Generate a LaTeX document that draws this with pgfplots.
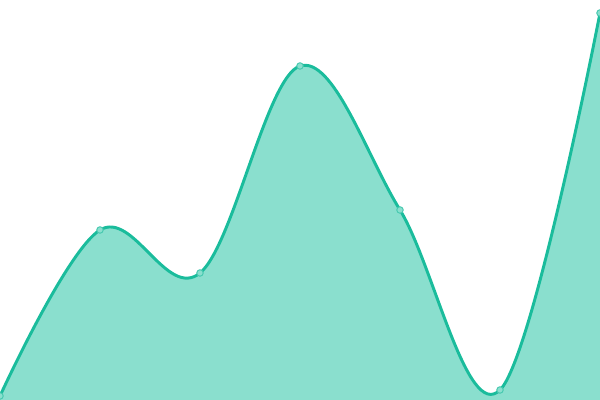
\documentclass[border=0pt]{standalone}
\usepackage{pgfplots}
\pgfplotsset{compat=1.18}
\definecolor{lineC}{HTML}{1ABC9C}
\definecolor{fillC}{HTML}{8ADFCE}
\definecolor{markC}{HTML}{48C9B0}
\begin{document}
\begin{tikzpicture}
\useasboundingbox (0,0) rectangle (15cm,10cm);
\clip (0,0) rectangle (15cm,10cm);
\begin{axis}[
    at={(0,0)}, anchor=south west,
    scale only axis,
    width=15cm, height=10cm,
    xmin=0, xmax=600, ymin=0, ymax=400,
    hide axis,
    clip=false,
]
\addplot[draw=none, fill=fillC, smooth, tension=0.6, forget plot]
    coordinates {(0,4) (100,170) (200,127) (300,334) (400,190) (500,10) (600,387)} \closedcycle;
\addplot[lineC, line width=2.1pt, smooth, tension=0.6,
    mark=*, mark size=2.3pt,
    mark options={fill=fillC, draw=markC, line width=0.7pt}]
    coordinates {(0,4) (100,170) (200,127) (300,334) (400,190) (500,10) (600,387)};
\end{axis}
\end{tikzpicture}
\end{document}
